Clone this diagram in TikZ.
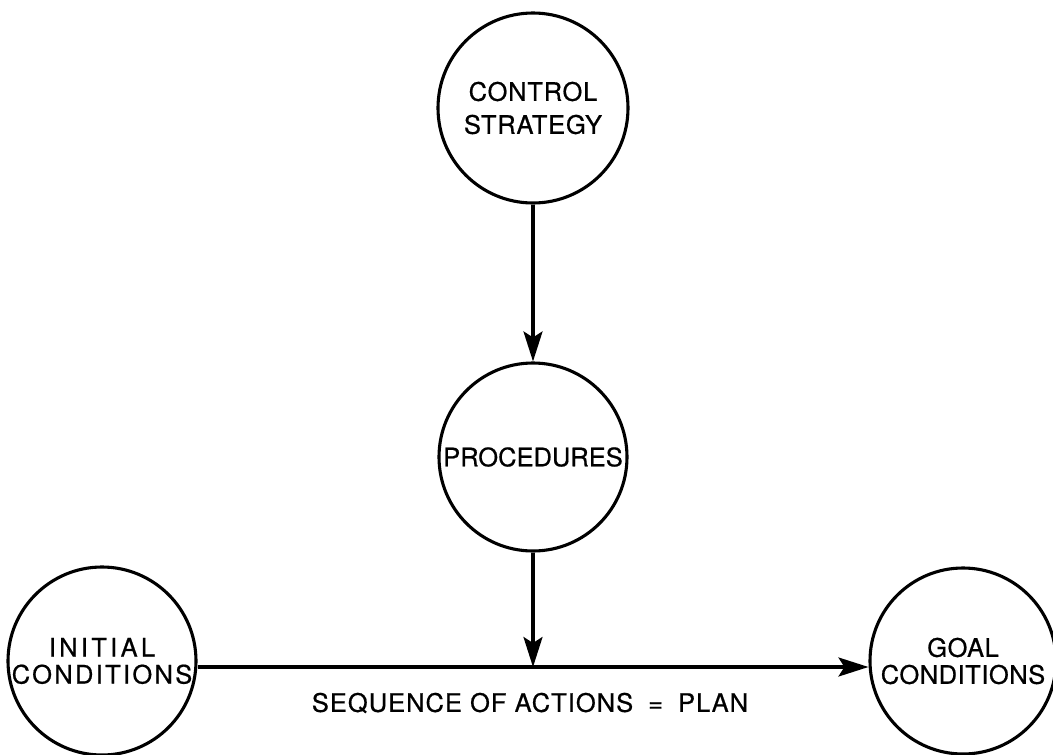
\documentclass[tikz,border=0pt]{standalone}
\usepackage{fontspec}
\setmainfont{TeX Gyre Heros}[FakeBold=0.6]
\usetikzlibrary{arrows.meta,calc}
\newcommand\ls[2]{{\addfontfeatures{LetterSpace=#1}#2}}
\begin{document}
\begin{tikzpicture}[x=1pt,y=-1pt,
  circ/.style={circle,draw,line width=3.1pt,inner sep=0pt,align=center,
    font=\fontsize{25.5}{27}\selectfont},
  arr/.style={line width=3.1pt,-{Stealth[length=30pt,width=19pt,inset=6pt]}}]
\useasboundingbox (0,0) rectangle (1053,755);
\node[circ,minimum size=190pt,font=\fontsize{25.5}{33}\selectfont] (ctrl) at (533,108)
  {\ls{3}{CONTROL}\\\ls{3}{STRATEGY}};
\node[circ,minimum size=188pt] (proc) at (533,457) {PROCEDURES};
\node[circ,minimum size=188pt] (init) at (102,661) {\ls{13}{INITIAL}\\\ls{9}{CONDITIONS}};
\node[circ,minimum size=186pt] (goal) at (963,661) {\ls{2}{GOAL}\\\ls{2}{CONDITIONS}};
\coordinate (line) at (533,667);
\draw[arr] (ctrl.south) -- (proc.north);
\draw[arr] (proc.south) -- (line);
\draw[arr] (init.east |- line) -- (goal.west |- line);
\node[font=\fontsize{25.5}{27}\selectfont] (lbl) at (530,703)
  {\ls{4}{SEQUENCE OF ACTIONS}\hspace{15pt}=\hspace{15pt}\ls{4}{PLAN}};
\end{tikzpicture}
\end{document}
